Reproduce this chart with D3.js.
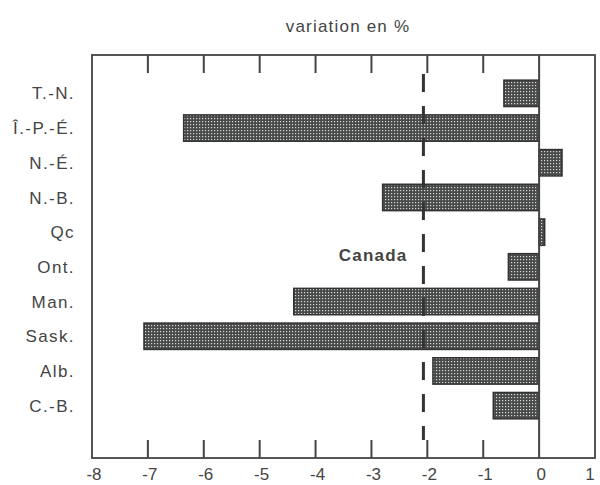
<!DOCTYPE html>
<html>
<head>
<meta charset="utf-8">
<script src="https://cdn.jsdelivr.net/npm/d3@7"></script>
<style>
  body { margin: 0; background: #fff; overflow: hidden; }
  svg { display: block; }
</style>
</head>
<body>
<div id="chart"></div>
<script>
const provinces = ["T.-N.", "Î.-P.-É.", "N.-É.", "N.-B.", "Qc", "Ont.", "Man.", "Sask.", "Alb.", "C.-B."];
const variation = [-0.63, -6.36, 0.41, -2.8, 0.1, -0.55, -4.39, -7.07, -1.9, -0.82];
const canada = -2.07;
const ticks = [-8, -7, -6, -5, -4, -3, -2, -1, 0, 1];

const width = 600, height = 485;
const frame = { left: 92, right: 595, top: 55, bottom: 458 };

const svg = d3.select("#chart").append("svg")
  .attr("width", width)
  .attr("height", height)
  .style("font-family", "Liberation Sans, Arial, sans-serif");

// stipple texture of the bars
const pat = svg.append("defs").append("pattern")
  .attr("id", "dots")
  .attr("patternUnits", "userSpaceOnUse")
  .attr("width", 3)
  .attr("height", 3);
pat.append("rect").attr("width", 3).attr("height", 3).attr("fill", "#474a48");
pat.append("rect").attr("x", 1).attr("y", 1).attr("width", 1.2).attr("height", 1.2).attr("fill", "#d8dad8");

const x = d3.scaleLinear().domain([-8, 1]).range([frame.left, frame.right]);
const y = d3.scaleBand().domain(provinces).range([76, 423]).paddingInner(0.24).paddingOuter(0.12);

// title
svg.append("text")
  .attr("x", 348)
  .attr("y", 32)
  .attr("text-anchor", "middle")
  .attr("font-size", "17px")
  .attr("letter-spacing", "1.2px")
  .attr("fill", "#444")
  .text("variation en %");

// frame
svg.append("rect")
  .attr("x", frame.left)
  .attr("y", frame.top)
  .attr("width", frame.right - frame.left)
  .attr("height", frame.bottom - frame.top)
  .attr("fill", "none")
  .attr("stroke", "#444")
  .attr("stroke-width", 1.8);

// ticks top and bottom
const inner = ticks.filter(d => d > -8 && d < 1 && d !== 0);
svg.selectAll("line.ttop").data(inner).enter().append("line")
  .attr("class", "ttop")
  .attr("x1", d => x(d)).attr("x2", d => x(d))
  .attr("y1", frame.top).attr("y2", frame.top + 18)
  .attr("stroke", "#444").attr("stroke-width", 2);
svg.selectAll("line.tbot").data(inner).enter().append("line")
  .attr("class", "tbot")
  .attr("x1", d => x(d)).attr("x2", d => x(d))
  .attr("y1", frame.bottom).attr("y2", frame.bottom - 18)
  .attr("stroke", "#444").attr("stroke-width", 2);

// tick labels (last one pulled in so it stays inside the page)
svg.selectAll("text.tick").data(ticks).enter().append("text")
  .attr("class", "tick")
  .attr("x", d => d === 1 ? x(d) - 5 : x(d) + 2)
  .attr("y", 480)
  .attr("text-anchor", "middle")
  .attr("font-size", "17px")
  .attr("fill", "#444")
  .text(d => d < 0 ? "-" + Math.abs(d) : d);

// province labels
svg.selectAll("text.prov").data(provinces).enter().append("text")
  .attr("class", "prov")
  .attr("x", 75)
  .attr("y", d => y(d) + y.bandwidth() / 2)
  .attr("dy", "0.36em")
  .attr("text-anchor", "end")
  .attr("font-size", "17px")
  .attr("letter-spacing", "1.4px")
  .attr("fill", "#444")
  .text(d => d);

// bars
svg.selectAll("rect.bar").data(provinces).enter().append("rect")
  .attr("class", "bar")
  .attr("x", (d, i) => x(Math.min(0, variation[i])))
  .attr("y", d => y(d))
  .attr("width", (d, i) => Math.abs(x(variation[i]) - x(0)))
  .attr("height", y.bandwidth())
  .attr("fill", "url(#dots)")
  .attr("stroke", "#333")
  .attr("stroke-width", 1.5);

// zero line
svg.append("line")
  .attr("x1", x(0)).attr("x2", x(0))
  .attr("y1", frame.top).attr("y2", frame.bottom)
  .attr("stroke", "#444").attr("stroke-width", 2);

// Canada average
svg.append("line")
  .attr("x1", x(canada)).attr("x2", x(canada))
  .attr("y1", 74).attr("y2", 440)
  .attr("stroke", "#333")
  .attr("stroke-width", 3)
  .attr("stroke-dasharray", "18,14");

svg.append("text")
  .attr("x", x(canada) - 16)
  .attr("y", 255)
  .attr("dy", "0.36em")
  .attr("text-anchor", "end")
  .attr("font-size", "17px")
  .attr("font-weight", "bold")
  .attr("letter-spacing", "1.2px")
  .attr("fill", "#444")
  .text("Canada");
</script>
</body>
</html>
